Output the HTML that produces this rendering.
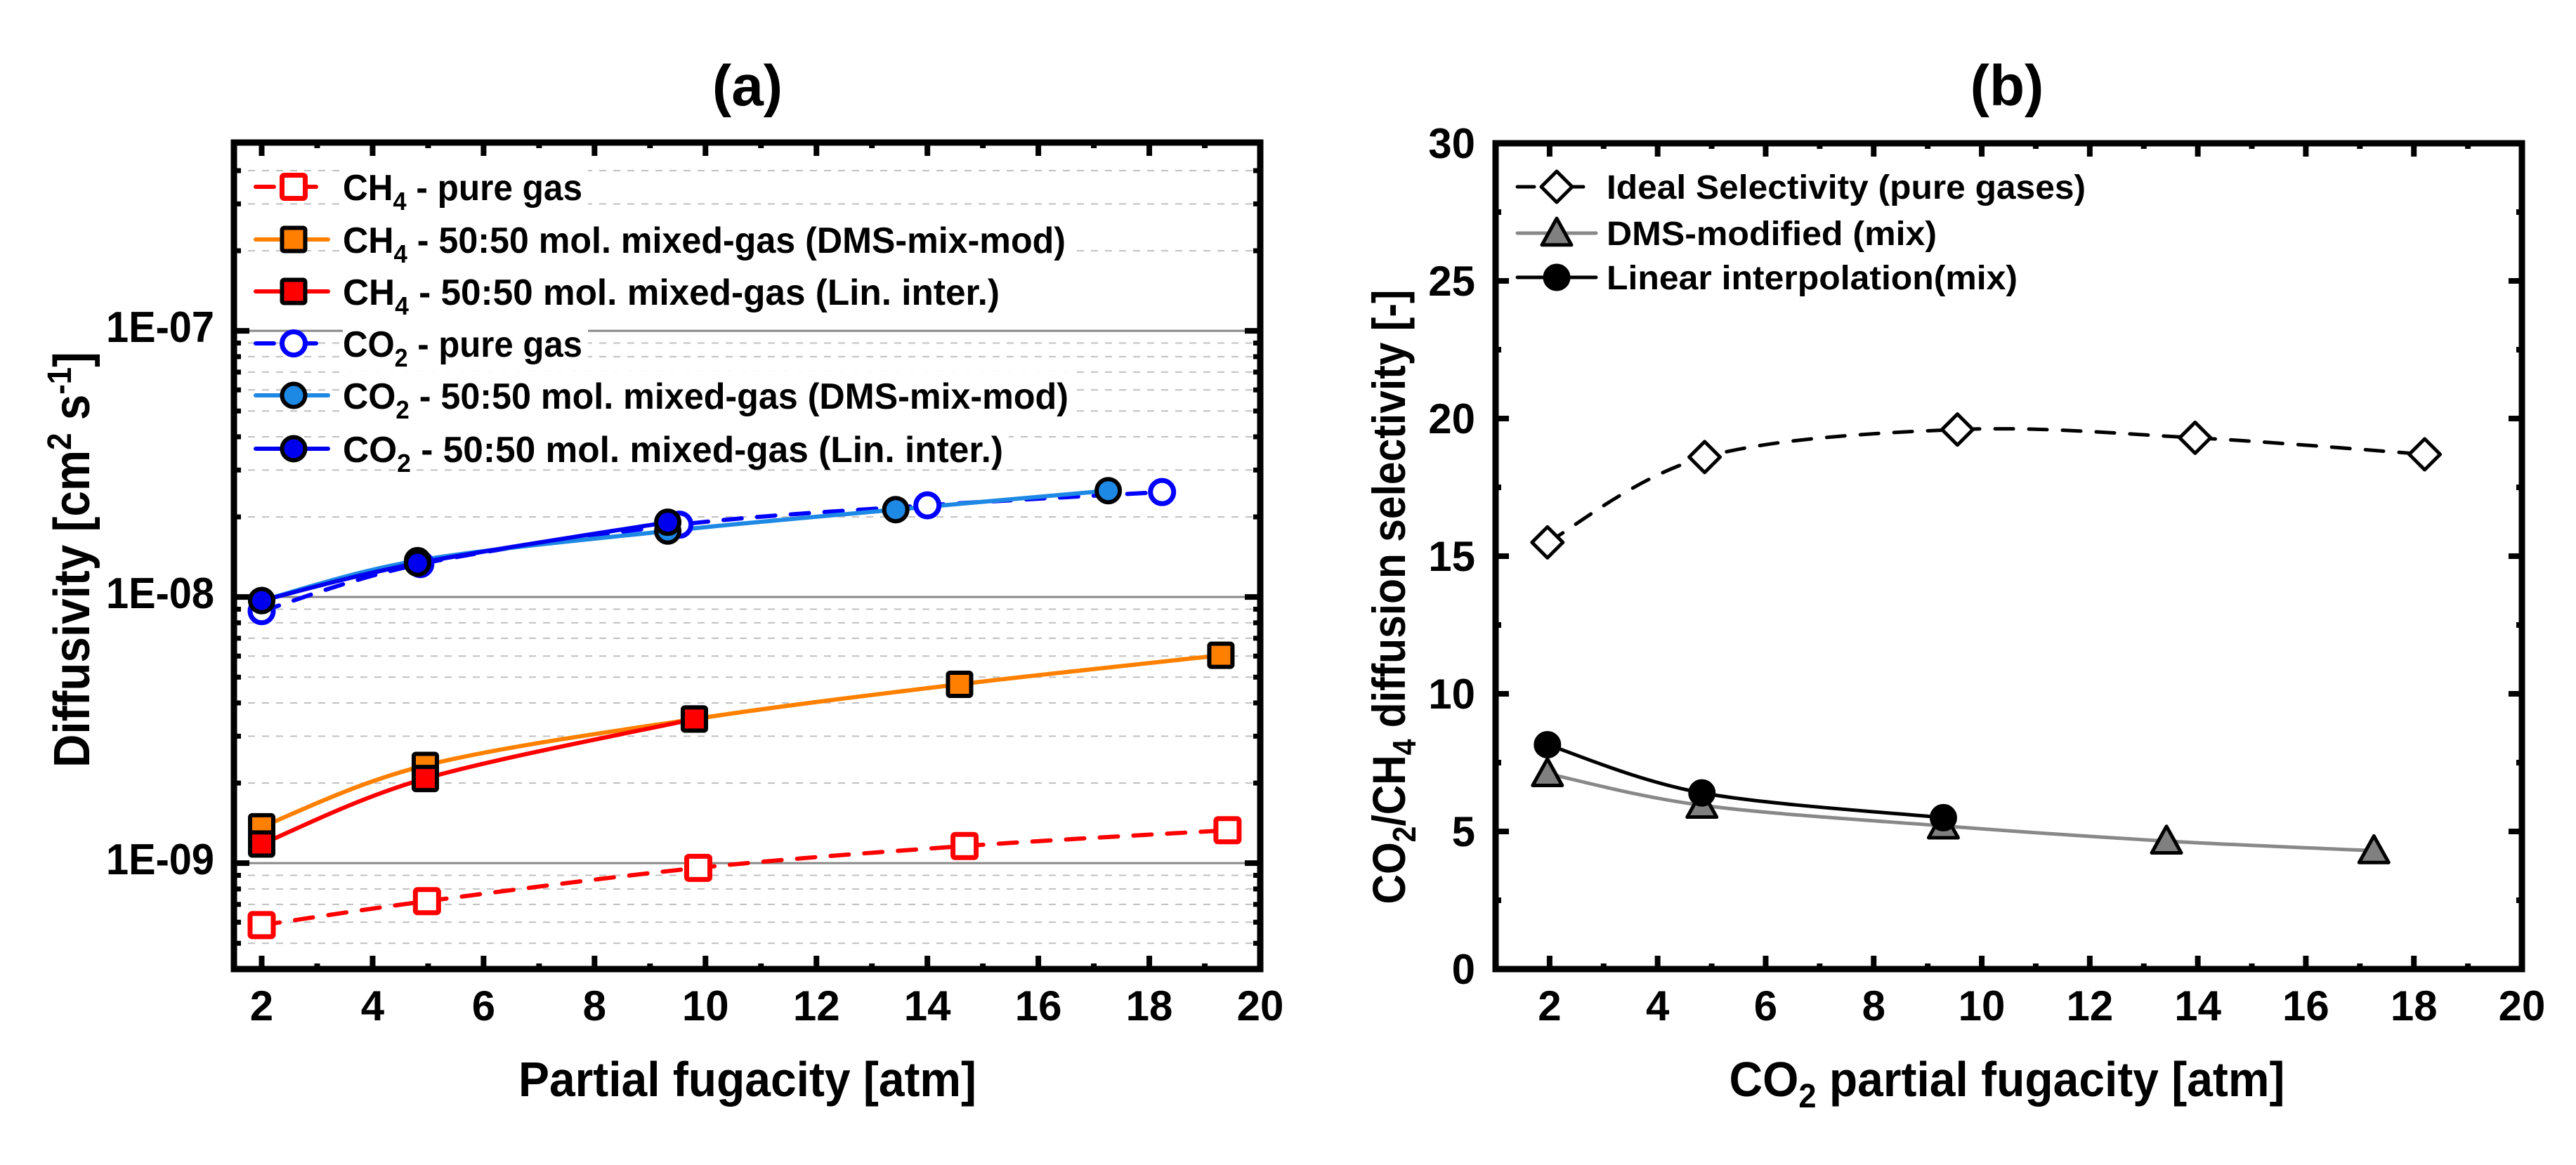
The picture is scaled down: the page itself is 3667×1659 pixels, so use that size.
<!DOCTYPE html>
<html><head><meta charset="utf-8"><style>
html,body{margin:0;padding:0;background:#fff;}
svg{display:block;font-family:"Liberation Sans",Arial,sans-serif;font-weight:bold;}
</style></head><body>
<svg id="chart" xmlns="http://www.w3.org/2000/svg" width="3667" height="1659" viewBox="0 0 3667 1659">
<g id="pa"></g>
<g id="pb"></g>
</svg>
<script>
// ---------- Panel (a) data ----------
const aCh4PureX = [2.0, 4.98, 9.87, 14.67, 19.41];
const aCh4PureY = [5.85e-10, 7.2e-10, 9.6e-10, 1.16e-9, 1.33e-9];
const aCh4DmsX = [2.0, 4.95, 9.8, 14.58, 19.29];
const aCh4DmsY = [1.37e-9, 2.33e-9, 3.48e-9, 4.7e-9, 6.04e-9];
const aCh4LinX = [2.0, 4.95, 9.8];
const aCh4LinY = [1.18e-9, 2.08e-9, 3.48e-9];
const aCo2PureX = [2.0, 4.86, 9.53, 14.0, 18.23];
const aCo2PureY = [8.85e-9, 1.33e-8, 1.87e-8, 2.21e-8, 2.48e-8];
const aCo2DmsX = [2.0, 4.81, 9.32, 13.43, 17.26];
const aCo2DmsY = [9.7e-9, 1.37e-8, 1.77e-8, 2.13e-8, 2.51e-8];
const aCo2LinX = [2.0, 4.81, 9.32];
const aCo2LinY = [9.7e-9, 1.34e-8, 1.91e-8];
const aXTicks = [2,4,6,8,10,12,14,16,18,20];
const aYTickLabels = ["1E-09","1E-08","1E-07"];
const aYTickExp = [-9,-8,-7];
// ---------- Panel (b) data ----------
const bIdealX = [1.96, 4.87, 9.55, 13.95, 18.2];
const bIdealY = [15.5, 18.6, 19.6, 19.3, 18.7];
const bDmsX = [1.96, 4.82, 9.29, 13.42, 17.26];
const bDmsY = [7.1, 5.95, 5.2, 4.65, 4.3];
const bLinX = [1.96, 4.82, 9.29];
const bLinY = [8.15, 6.4, 5.5];
const bXTicks = [2,4,6,8,10,12,14,16,18,20];
const bYTicks = [0,5,10,15,20,25,30];

const NS="http://www.w3.org/2000/svg";
function mk(parent,tag,attrs){const e=document.createElementNS(NS,tag);for(const k in attrs)e.setAttribute(k,attrs[k]);parent.appendChild(e);return e;}
function spline(pts){
  if(pts.length<2)return "";
  let d="M"+pts[0][0]+","+pts[0][1];
  for(let i=0;i<pts.length-1;i++){
    const p0=pts[i-1]||pts[i],p1=pts[i],p2=pts[i+1],p3=pts[i+2]||p2;
    const c1=[p1[0]+(p2[0]-p0[0])/6,p1[1]+(p2[1]-p0[1])/6];
    const c2=[p2[0]-(p3[0]-p1[0])/6,p2[1]-(p3[1]-p1[1])/6];
    d+=" C"+c1[0]+","+c1[1]+" "+c2[0]+","+c2[1]+" "+p2[0]+","+p2[1];
  }
  return d;
}
function marker(g,shape,cx,cy,fill,stroke,sw,s){
  let e;
  if(shape==="sq"){e=mk(g,"rect",{x:cx-s/2,y:cy-s/2,width:s,height:s,rx:3,fill:fill,stroke:stroke,"stroke-width":sw});}
  else if(shape==="ci"){e=mk(g,"ellipse",{cx:cx,cy:cy,rx:s/2,ry:s/2,fill:fill,stroke:stroke,"stroke-width":sw});}
  else if(shape==="di"){const r=s/2;e=mk(g,"polygon",{points:`${cx},${cy-r} ${cx+r},${cy} ${cx},${cy+r} ${cx-r},${cy}`,fill:fill,stroke:stroke,"stroke-width":sw,"stroke-linejoin":"round"});}
  else {const r=s/2;e=mk(g,"polygon",{points:`${cx},${cy-r} ${cx+r},${cy+r*0.8} ${cx-r},${cy+r*0.8}`,fill:fill,stroke:stroke,"stroke-width":sw,"stroke-linejoin":"round"});}
  return e;
}

// ===== Panel A =====
(function(){
  const g=document.getElementById("pa");
  const L=333,R=1794,T=203,B=1380;
  const xmin=1.5,xmax=20.0;
  const lmin=Math.log10(4.0e-10),lmax=Math.log10(5.1e-7);
  const X=v=>L+(v-xmin)/(xmax-xmin)*(R-L);
  const Y=v=>B-(Math.log10(v)-lmin)/(lmax-lmin)*(B-T);
  // grid
  for(let e=-10;e<=-7;e++){
    for(let m=1;m<=9;m++){
      const v=m*Math.pow(10,e); const y=Y(v);
      if(y<T+4||y>B-4)continue;
      const ln=mk(g,"line",{x1:L,x2:R,y1:y,y2:y,stroke:m===1?"#888":"#c0c0c0","stroke-width":m===1?3:2,"stroke-dasharray":m===1?"none":"10 10"});
      
      
      // minor/major ticks left & right
      const tl=m===1?22:10;
      const t1=mk(g,"line",{x1:L,x2:L+tl,y1:y,y2:y,stroke:"#000","stroke-width":m===1?8:7});
      
      
      const t2=mk(g,"line",{x1:R,x2:R-tl,y1:y,y2:y,stroke:"#000","stroke-width":m===1?8:7});
      
      
    }
  }
  // x ticks
  for(let v=2;v<=20;v++){
    const x=X(v); const major=v%2===0; const tl=major?19:8;
    const t1=mk(g,"line",{x1:x,x2:x,y1:B,y2:B-tl,stroke:"#000","stroke-width":8});
    
    
    const t2=mk(g,"line",{x1:x,x2:x,y1:T,y2:T+tl,stroke:"#000","stroke-width":8});
    
    
  }
  aXTicks.forEach(v=>{
    const t=mk(g,"text",{x:X(v),y:1453,"font-size":60,"text-anchor":"middle"});t.textContent=v;
    
    
  });
  aYTickExp.forEach((e,i)=>{
    const t=mk(g,"text",{x:305,y:Y(Math.pow(10,e))+16,"font-size":62,"text-anchor":"end",textLength:154,lengthAdjust:"spacingAndGlyphs"});t.textContent=aYTickLabels[i];
    
    
  });
  // series
  const series=[
    {name:"ch4-pure",xs:aCh4PureX,ys:aCh4PureY,color:"#ff0000",dash:"26 22",shape:"sq",fill:"#fff",stroke:"#ff0000"},
    {name:"ch4-dms-mix",xs:aCh4DmsX,ys:aCh4DmsY,color:"#ff8000",dash:null,shape:"sq",fill:"#ff8000",stroke:"#000"},
    {name:"ch4-lin-inter",xs:aCh4LinX,ys:aCh4LinY,color:"#ff0000",dash:null,shape:"sq",fill:"#ff0000",stroke:"#000"},
    {name:"co2-pure",xs:aCo2PureX,ys:aCo2PureY,color:"#0000ff",dash:"26 22",shape:"ci",fill:"#fff",stroke:"#0000ff"},
    {name:"co2-dms-mix",xs:aCo2DmsX,ys:aCo2DmsY,color:"#1e88e5",dash:null,shape:"ci",fill:"#1e88e5",stroke:"#000"},
    {name:"co2-lin-inter",xs:aCo2LinX,ys:aCo2LinY,color:"#0000ee",dash:null,shape:"ci",fill:"#0000ee",stroke:"#000"}
  ];
  series.forEach(s=>{
    const pts=s.xs.map((x,i)=>[X(x),Y(s.ys[i])]);
    const p=mk(g,"path",{d:spline(pts),fill:"none",stroke:s.color,"stroke-width":6,"stroke-linecap":"round","stroke-dasharray":s.dash||"none"});
    
    
  });
  series.forEach(s=>{
    s.xs.forEach((x,i)=>{
      const m=marker(g,s.shape,X(x),Y(s.ys[i]),s.fill,s.stroke,s.stroke==="#000"?6:7,33);
      
      
    });
  });
  // legend
  const legTexts=[["CH","4"," - pure gas"],["CH","4"," - 50:50 mol. mixed-gas (DMS-mix-mod)"],["CH","4"," - 50:50 mol. mixed-gas (Lin. inter.)"],["CO","2"," - pure gas"],["CO","2"," - 50:50 mol. mixed-gas (DMS-mix-mod)"],["CO","2"," - 50:50 mol. mixed-gas (Lin. inter.)"]];
  const legY=[266,341,415,489,563,639];
  const legW=[341,1029,935,341,1033,940];
  series.forEach((s,i)=>{
    const lg=mk(g,"g",{});
    
    
    mk(lg,"rect",{x:488,y:legY[i]-34,width:legW[i]+8,height:62,fill:"#fff"});
    mk(lg,"line",{x1:364,x2:467,y1:legY[i],y2:legY[i],stroke:s.color,"stroke-width":6,"stroke-linecap":"round","stroke-dasharray":s.dash?"26 34":"none"});
    marker(lg,s.shape,418,legY[i],s.fill,s.stroke,s.stroke==="#000"?6:7,33);
    const t=mk(lg,"text",{x:488,y:legY[i]+19,"font-size":52,textLength:legW[i],lengthAdjust:"spacingAndGlyphs"});
    const a=mk(t,"tspan",{});a.textContent=legTexts[i][0];
    const b=mk(t,"tspan",{dy:14,"font-size":36});b.textContent=legTexts[i][1];
    const c=mk(t,"tspan",{dy:-14});c.textContent=legTexts[i][2];
  });
  // frame
  const fr=mk(g,"rect",{x:L,y:T,width:R-L,height:B-T,fill:"none",stroke:"#000","stroke-width":9});
  
  
  const ti=mk(g,"text",{x:1064,y:150,"font-size":82,"text-anchor":"middle"});ti.textContent="(a)";
  
  
  const xt=mk(g,"text",{x:1064,y:1561,"font-size":70,"text-anchor":"middle",textLength:652,lengthAdjust:"spacingAndGlyphs"});xt.textContent="Partial fugacity [atm]";
  
  
  const yt=mk(g,"text",{x:0,y:0,"font-size":72,"text-anchor":"middle",transform:"translate(127,797) rotate(-90)",textLength:592,lengthAdjust:"spacingAndGlyphs"});
  
  
  const y1=mk(yt,"tspan",{});y1.textContent="Diffusivity [cm";
  const y2=mk(yt,"tspan",{dy:-26,"font-size":48});y2.textContent="2";
  const y3=mk(yt,"tspan",{dy:26});y3.textContent=" s";
  const y4=mk(yt,"tspan",{dy:-26,"font-size":48});y4.textContent="-1";
  const y5=mk(yt,"tspan",{dy:26});y5.textContent="]";
})();

// ===== Panel B =====
(function(){
  const g=document.getElementById("pb");
  const L=2129,R=3590,T=204,B=1380;
  const xmin=1,xmax=20,ymin=0,ymax=30;
  const X=v=>L+(v-xmin)/(xmax-xmin)*(R-L);
  const Y=v=>B-(v-ymin)/(ymax-ymin)*(B-T);
  for(let v=2;v<=20;v++){
    const x=X(v); const major=v%2===0; const tl=major?19:8;
    const t1=mk(g,"line",{x1:x,x2:x,y1:B,y2:B-tl,stroke:"#000","stroke-width":8});
    
    
    const t2=mk(g,"line",{x1:x,x2:x,y1:T,y2:T+tl,stroke:"#000","stroke-width":8});
    
    
  }
  for(let v=0;v<=30;v+=2.5){
    const y=Y(v); const major=v%5===0; const tl=major?19:8;
    const t1=mk(g,"line",{x1:L,x2:L+tl,y1:y,y2:y,stroke:"#000","stroke-width":8});
    
    
    const t2=mk(g,"line",{x1:R,x2:R-tl,y1:y,y2:y,stroke:"#000","stroke-width":8});
    
    
  }
  bXTicks.forEach(v=>{
    const t=mk(g,"text",{x:X(v),y:1453,"font-size":60,"text-anchor":"middle"});t.textContent=v;
    
    
  });
  bYTicks.forEach(v=>{
    const t=mk(g,"text",{x:2100,y:Y(v)+21,"font-size":60,"text-anchor":"end"});t.textContent=v;
    
    
  });
  const series=[
    {name:"ideal-selectivity",xs:bIdealX,ys:bIdealY,color:"#000",dash:"26 22",shape:"di",fill:"#fff",stroke:"#000",size:44},
    {name:"dms-modified",xs:bDmsX,ys:bDmsY,color:"#888",dash:null,shape:"tr",fill:"#808080",stroke:"#000",size:42},
    {name:"linear-interpolation",xs:bLinX,ys:bLinY,color:"#000",dash:null,shape:"ci",fill:"#000",stroke:"#000",size:34}
  ];
  series.forEach(s=>{
    const pts=s.xs.map((x,i)=>[X(x),Y(s.ys[i])]);
    const p=mk(g,"path",{d:spline(pts),fill:"none",stroke:s.color,"stroke-width":5,"stroke-linecap":"round","stroke-dasharray":s.dash||"none"});
    
    
  });
  series.forEach(s=>{
    s.xs.forEach((x,i)=>{
      const m=marker(g,s.shape,X(x),Y(s.ys[i]),s.fill,s.stroke,5,s.size);
      
      
    });
  });
  const legTexts=["Ideal Selectivity (pure gases)","DMS-modified (mix)","Linear interpolation(mix)"];
  const legY=[266,332,395];
  const legW=[682,470,585];
  series.forEach((s,i)=>{
    const lg=mk(g,"g",{});
    
    
    mk(lg,"line",{x1:2160,x2:2272,y1:legY[i],y2:legY[i],stroke:s.color,"stroke-width":5,"stroke-linecap":"round","stroke-dasharray":s.dash?"24 46":"none"});
    marker(lg,s.shape,2216,legY[i],s.fill,s.stroke,5,s.size);
    const t=mk(lg,"text",{x:2287,y:legY[i]+17,"font-size":48,textLength:legW[i],lengthAdjust:"spacingAndGlyphs"});t.textContent=legTexts[i];
  });
  const fr=mk(g,"rect",{x:L,y:T,width:R-L,height:B-T,fill:"none",stroke:"#000","stroke-width":9});
  
  
  const ti=mk(g,"text",{x:2857,y:150,"font-size":82,"text-anchor":"middle"});ti.textContent="(b)";
  
  
  const xt=mk(g,"text",{x:2857,y:1561,"font-size":70,"text-anchor":"middle",textLength:791,lengthAdjust:"spacingAndGlyphs"});
  
  
  const x1=mk(xt,"tspan",{});x1.textContent="CO";
  const x2=mk(xt,"tspan",{dy:16,"font-size":48});x2.textContent="2";
  const x3=mk(xt,"tspan",{dy:-16});x3.textContent=" partial fugacity [atm]";
  const yt=mk(g,"text",{x:0,y:0,"font-size":66,"text-anchor":"middle",transform:"translate(2000,850) rotate(-90)",textLength:875,lengthAdjust:"spacingAndGlyphs"});
  
  
  const a1=mk(yt,"tspan",{});a1.textContent="CO";
  const a2=mk(yt,"tspan",{dy:15,"font-size":46});a2.textContent="2";
  const a3=mk(yt,"tspan",{dy:-15});a3.textContent="/CH";
  const a4=mk(yt,"tspan",{dy:15,"font-size":46});a4.textContent="4";
  const a5=mk(yt,"tspan",{dy:-15});a5.textContent=" diffusion selectivity [-]";
})();
</script>
</body></html>
